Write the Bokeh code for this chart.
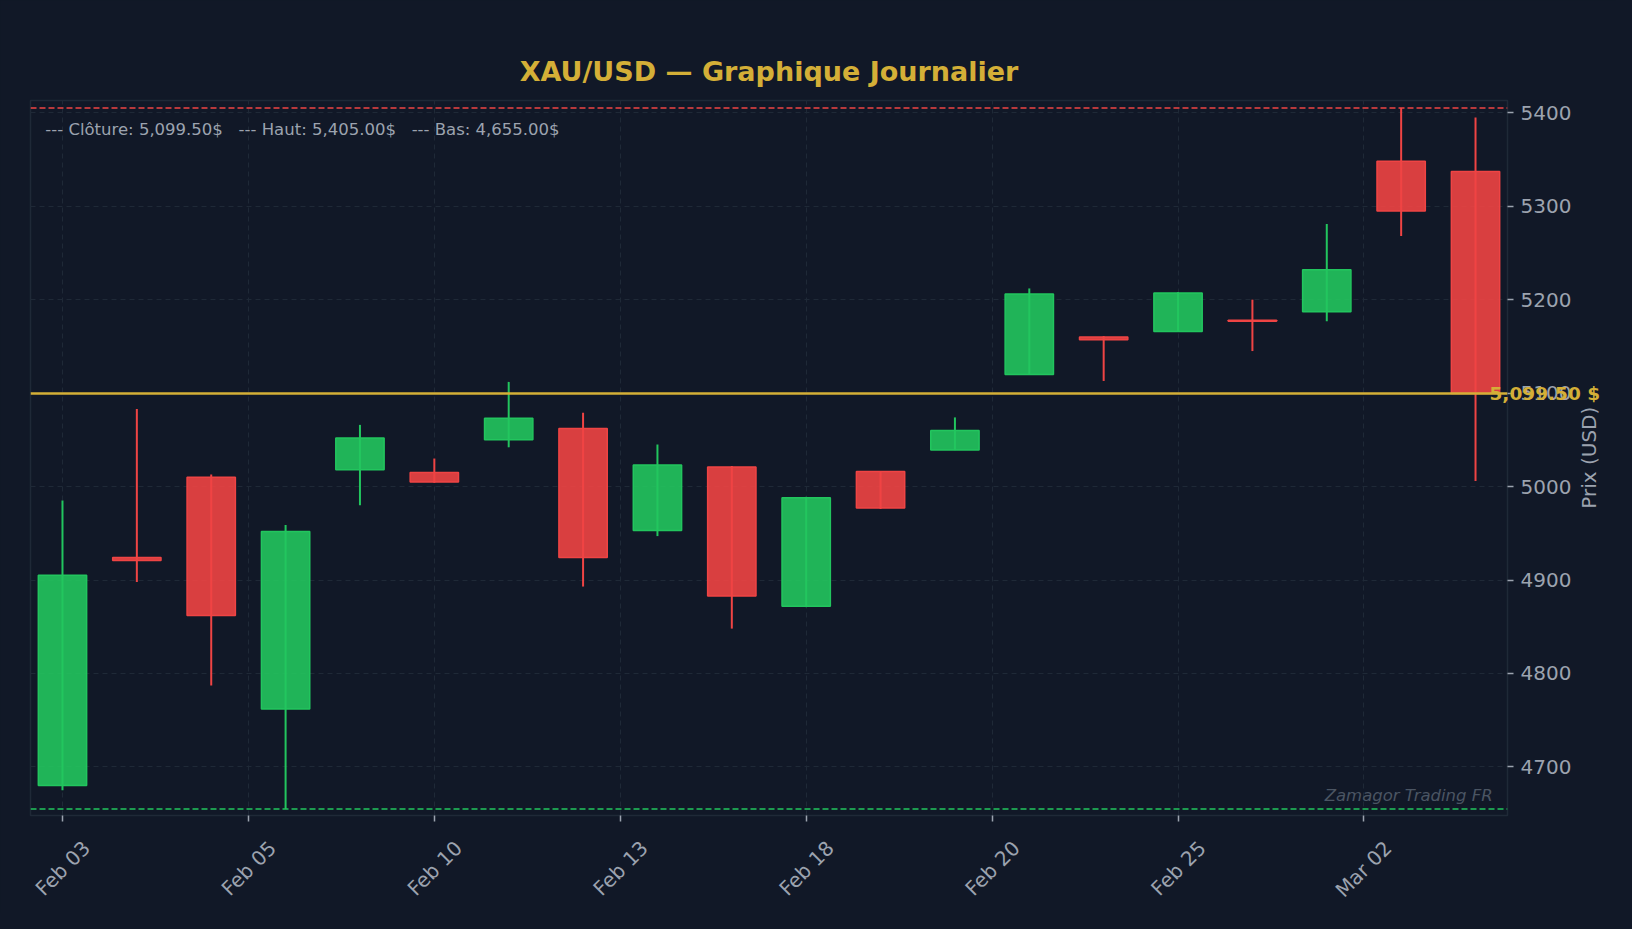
from bokeh.plotting import figure
from bokeh.models import ColumnDataSource, Range1d, FixedTicker, Span, Label, LinearAxis
from bokeh.embed import file_html
from bokeh.resources import INLINE

### Données

opens  = [4680, 4924, 5010, 4762, 5018, 5015, 5050, 5062, 4953, 5021,
          4872, 5016, 5039, 5120, 5160, 5166, 5178, 5187, 5348, 5337]
closes = [4905, 4921, 4862, 4952, 5052, 5005, 5073, 4924, 5023, 4883,
          4988, 4977, 5060, 5206, 5157, 5207, 5177, 5232, 5295, 5099.5]
highs  = [4985, 5083, 5013, 4959, 5066, 5030, 5112, 5079, 5045, 5022,
          4989, 5016, 5074, 5212, 5161, 5208, 5200, 5281, 5405, 5395]
lows   = [4675, 4898, 4787, 4655, 4980, 5004, 5042, 4893, 4947, 4848,
          4871, 4976, 5039, 5120, 5113, 5166, 5145, 5177, 5268, 5006]

tick_pos = [0, 2.5, 5, 7.5, 10, 12.5, 15, 17.5]
tick_labels = ["Feb 03", "Feb 05", "Feb 10", "Feb 13", "Feb 18", "Feb 20", "Feb 25", "Mar 02"]
y_ticks = [4700, 4800, 4900, 5000, 5100, 5200, 5300, 5400]

last_close = closes[-1]
top_high = max(highs)
bottom_low = min(lows)

### Couleurs

BG = "#111827"
GRID = "#1f2937"
TXT = "#9ca3af"
GOLD = "#d4af37"
GREEN = "#22c55e"
RED = "#ef4444"
FONT = "DejaVu Sans"

n = len(opens)
idx = list(range(n))
up = [c >= o for o, c in zip(opens, closes)]
source = ColumnDataSource(dict(
    x=idx,
    high=highs,
    low=lows,
    top=[max(o, c) for o, c in zip(opens, closes)],
    bottom=[min(o, c) for o, c in zip(opens, closes)],
    color=[GREEN if u else RED for u in up],
))

W, H = 1616, 913
B_TOP, B_BOTTOM = 100, 94
x0, x1 = -0.43, n - 1 + 0.43
y0, y1 = bottom_low * 0.9985, top_high * 1.0015

p = figure(width=W, height=H, output_backend="svg", toolbar_location=None,
           x_range=Range1d(x0, x1), y_range=Range1d(y0, y1),
           y_axis_location="right",
           min_border_left=30, min_border_right=109, min_border_top=B_TOP, min_border_bottom=B_BOTTOM,
           background_fill_color=BG, border_fill_color=BG)

p.outline_line_color = GRID
p.outline_line_width = 1.5

# Titre
p.title.text = "XAU/USD \u2014 Graphique Journalier"
p.title.align = "center"
p.title.text_color = GOLD
p.title.text_font = FONT
p.title.text_font_size = "27px"
p.title.text_font_style = "bold"
p.title.standoff = 27

# Grille
p.xgrid.ticker = FixedTicker(ticks=tick_pos)
p.ygrid.ticker = FixedTicker(ticks=y_ticks)
for g in (p.xgrid, p.ygrid):
    g.grid_line_color = GRID
    g.grid_line_dash = "5 4"
    g.grid_line_width = 1

# Axe Y (à droite)
p.yaxis.ticker = FixedTicker(ticks=y_ticks)
p.yaxis.major_label_text_font = FONT
p.yaxis.major_label_text_font_size = "20px"
p.yaxis.major_label_text_color = TXT
p.yaxis.major_label_standoff = 7
p.yaxis.axis_line_color = None
p.yaxis.major_tick_line_color = TXT
p.yaxis.major_tick_line_width = 1.5
p.yaxis.major_tick_in = 0
p.yaxis.major_tick_out = 6
p.yaxis.minor_tick_line_color = None

# Titre d'axe "Prix (USD)", lu de bas en haut et centré sur le cadre
frame_h = H - B_TOP - B_BOTTOM
px_per_unit = frame_h / (y1 - y0)
label_len_px = 102
y_label_start = (y0 + y1) / 2 - (label_len_px / 2) / px_per_unit
label_axis = LinearAxis(ticker=FixedTicker(ticks=[y_label_start]),
                        major_label_overrides={y_label_start: "Prix (USD)"})
label_axis.major_label_orientation = 1.5708
label_axis.axis_line_color = None
label_axis.major_tick_line_color = None
label_axis.minor_tick_line_color = None
label_axis.major_tick_out = 0
label_axis.major_tick_in = 0
label_axis.major_label_standoff = 15
label_axis.major_label_text_font = FONT
label_axis.major_label_text_font_size = "20px"
label_axis.major_label_text_color = TXT
p.add_layout(label_axis, "right")

# Axe X : petites graduations aux dates, étiquettes décalées pour être centrées à 45°
shift = 0.325
x_ticker = FixedTicker(ticks=[t + shift for t in tick_pos], minor_ticks=tick_pos)
p.xaxis.ticker = x_ticker
p.xaxis.major_label_overrides = {t + shift: lab for t, lab in zip(tick_pos, tick_labels)}
p.xaxis.major_label_orientation = 0.785398
p.xaxis.major_label_text_font = FONT
p.xaxis.major_label_text_font_size = "20px"
p.xaxis.major_label_text_color = TXT
p.xaxis.major_label_standoff = 23
p.xaxis.axis_line_color = None
p.xaxis.major_tick_line_color = None
p.xaxis.major_tick_in = 0
p.xaxis.major_tick_out = 0
p.xaxis.minor_tick_line_color = TXT
p.xaxis.minor_tick_line_width = 1.5
p.xaxis.minor_tick_in = 0
p.xaxis.minor_tick_out = 6

# Lignes haut / bas / clôture
p.add_layout(Span(location=top_high, dimension="width", line_color=RED,
                  line_dash="6 3", line_width=1.5))
p.add_layout(Span(location=bottom_low, dimension="width", line_color=GREEN,
                  line_dash="6 3", line_width=1.5))
p.add_layout(Span(location=last_close, dimension="width", line_color=GOLD,
                  line_width=2.5))

# Bougies
p.segment(x0="x", y0="low", x1="x", y1="high", source=source, line_color="color", line_width=2)
p.vbar(x="x", width=0.65, top="top", bottom="bottom", source=source,
       fill_color="color", fill_alpha=0.9, line_color="color", line_width=1.5)

# Étiquette du dernier cours (axe supplémentaire, ramené vers le cadre)
close_axis = LinearAxis(ticker=FixedTicker(ticks=[last_close]),
                        major_label_overrides={last_close: f"{last_close:,.2f} $"})
close_axis.axis_line_color = None
close_axis.major_tick_line_color = None
close_axis.minor_tick_line_color = None
close_axis.major_tick_out = 0
close_axis.major_tick_in = 0
close_axis.major_label_standoff = -127
close_axis.major_label_text_font = FONT
close_axis.major_label_text_font_size = "18.5px"
close_axis.major_label_text_font_style = "bold"
close_axis.major_label_text_color = GOLD
p.add_layout(close_axis, "right")

# Légende texte
sp = "\u00a0" * 3
legend_txt = (f"--- Cl\u00f4ture: {last_close:,.2f}${sp}--- Haut: {top_high:,.2f}${sp}"
              f"--- Bas: {bottom_low:,.2f}$")
p.add_layout(Label(x=x0 + 0.01 * (x1 - x0), y=y0 + 0.97 * (y1 - y0), text=legend_txt,
                   text_align="left", text_baseline="top", y_offset=2,
                   text_font=FONT, text_font_size="16.5px", text_color=TXT))

# Filigrane
p.add_layout(Label(x=x0 + 0.99 * (x1 - x0), y=y0 + 0.02 * (y1 - y0), text="Zamagor Trading FR",
                   text_align="right", text_baseline="bottom", y_offset=-4,
                   text_font=FONT, text_font_size="16.5px", text_font_style="italic",
                   text_color="#4b5563"))

html = file_html(p, INLINE)
html = html.replace("<head>", "<head><style>html, body { background-color: #111827; }</style>", 1)
open("out.html", "w").write(html)
